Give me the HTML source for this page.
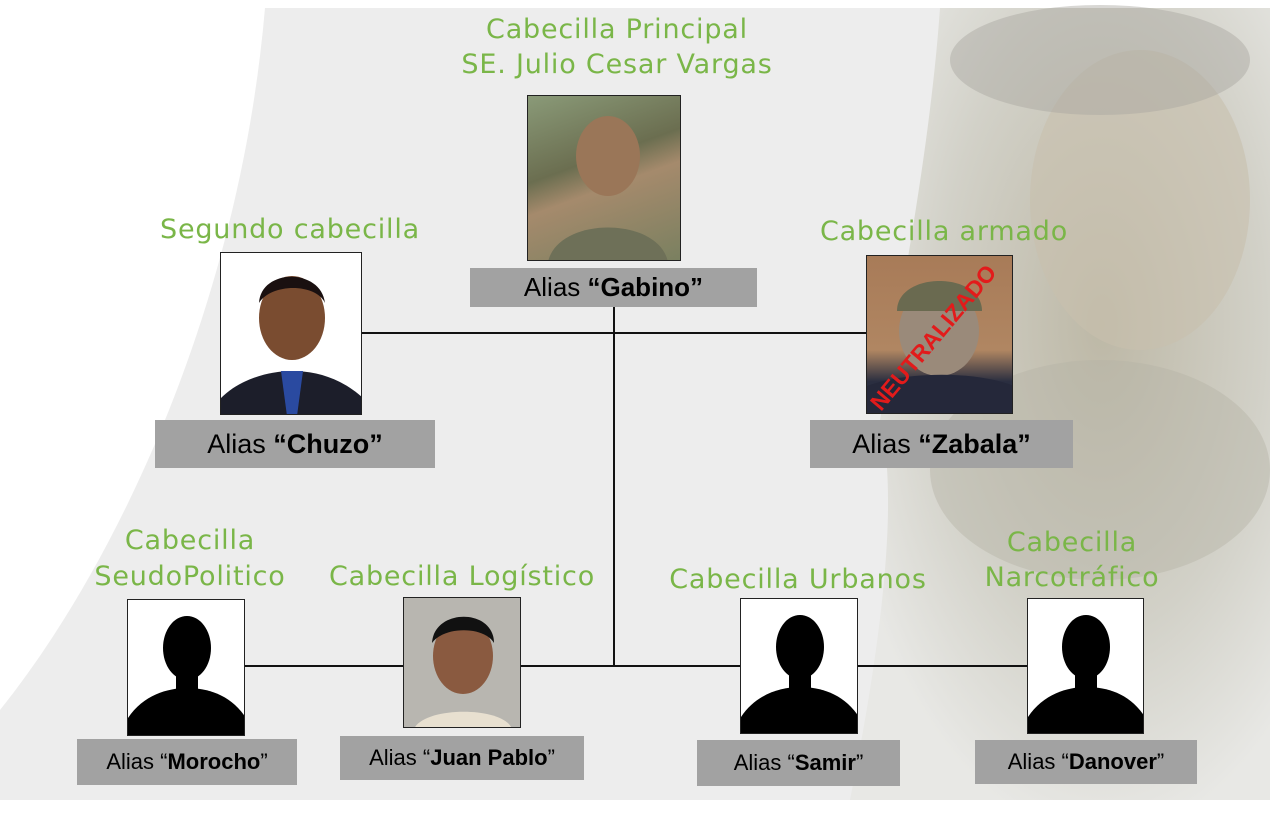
<!DOCTYPE html>
<html><head><meta charset="utf-8"><style>
html,body{margin:0;padding:0}
body{width:1280px;height:822px;position:relative;overflow:hidden;background:#fff;font-family:"Liberation Sans",sans-serif}
.t{position:absolute;color:#7ab648;font-family:"DejaVu Sans","Liberation Sans",sans-serif;font-size:27px;text-align:center;white-space:nowrap;line-height:36px;letter-spacing:0.8px}
.ph{position:absolute;border:1.5px solid #222;box-sizing:border-box;overflow:hidden}
.lb{position:absolute;background:#a2a2a2;color:#000;text-align:center;white-space:nowrap}
.l{position:absolute;background:#111}
</style></head><body>
<svg width="1280" height="822" style="position:absolute;left:0;top:0">
<defs>
<radialGradient id="sol" cx="0.6" cy="0.4" r="0.65"><stop offset="0" stop-color="#bdb8a6"/><stop offset="0.6" stop-color="#d2d1c8"/><stop offset="1" stop-color="#e8e8e5"/></radialGradient>
</defs>
<path d="M265 8 L1270 8 L1270 800 L0 800 L0 710 C120 560 240 300 265 8 Z" fill="#ededed"/>
<path d="M940 8 L1270 8 L1270 800 L850 800 C880 650 900 500 880 420 C900 300 930 150 940 8 Z" fill="url(#sol)"/>
<ellipse cx="1140" cy="200" rx="110" ry="150" fill="#c8bfae" opacity="0.6"/>
<ellipse cx="1100" cy="60" rx="150" ry="55" fill="#a8a79f" opacity="0.45"/>
<ellipse cx="1100" cy="470" rx="170" ry="110" fill="#b5b4a6" opacity="0.45"/>
</svg>

<div class="t" style="left:417px;top:12px;width:400px">Cabecilla Principal</div>
<div class="t" style="left:417px;top:47px;width:400px">SE. Julio Cesar Vargas</div>
<div class="t" style="left:120px;top:212px;width:340px">Segundo cabecilla</div>
<div class="t" style="left:774px;top:214px;width:340px">Cabecilla armado</div>
<div class="t" style="left:60px;top:523px;width:260px">Cabecilla</div>
<div class="t" style="left:60px;top:559px;width:260px">SeudoPolitico</div>
<div class="t" style="left:302px;top:559px;width:320px">Cabecilla Logístico</div>
<div class="t" style="left:638px;top:562px;width:320px">Cabecilla Urbanos</div>
<div class="t" style="left:942px;top:525px;width:260px">Cabecilla</div>
<div class="t" style="left:942px;top:560px;width:260px">Narcotráfico</div>

<div class="l" style="left:613px;top:307px;width:2px;height:360px"></div>
<div class="l" style="left:362px;top:332px;width:504px;height:2px"></div>
<div class="l" style="left:245px;top:665px;width:783px;height:2px"></div>

<div class="ph" style="left:527px;top:95px;width:154px;height:166px;background:linear-gradient(160deg,#8a9a78,#6b6e50 40%,#a58a6c 55%,#7a8060)"><svg width="154" height="166"><ellipse cx="80" cy="60" rx="32" ry="40" fill="#9a7658"/><path d="M20 166 C30 120 130 120 140 166Z" fill="#6e7058"/></svg></div>
<div class="lb" style="left:470px;top:268px;width:287px;height:39px;line-height:39px;font-size:26px">Alias <b>“Gabino”</b></div>

<div class="ph" style="left:220px;top:252px;width:142px;height:163px;background:#fff"><svg width="142" height="163"><ellipse cx="71" cy="65" rx="33" ry="42" fill="#7a4c30"/><path d="M38 50 C40 15 100 15 104 50 C95 30 50 30 38 50Z" fill="#1a1010"/><path d="M0 163 L0 145 C20 125 50 118 71 118 C95 118 120 125 142 145 L142 163Z" fill="#1c1e2a"/><path d="M60 118 L82 118 L76 163 L66 163Z" fill="#2a4aa0"/></svg></div>
<div class="lb" style="left:155px;top:420px;width:280px;height:48px;line-height:48px;font-size:27px">Alias <b>“Chuzo”</b></div>

<div class="ph" style="left:866px;top:255px;width:147px;height:159px;background:linear-gradient(#a87b58,#b08662 60%,#2a2e40 80%)"><svg width="147" height="159"><ellipse cx="72" cy="75" rx="40" ry="45" fill="#9a8a7a"/><path d="M30 55 C30 15 115 15 115 55Z" fill="#6a6a50"/><path d="M0 159 L0 130 C40 115 110 115 147 130 L147 159Z" fill="#25283a"/><text transform="translate(14,156) rotate(-50)" font-family="Liberation Sans" font-weight="bold" font-size="23" fill="#e21b1b">NEUTRALIZADO</text></svg></div>
<div class="lb" style="left:810px;top:420px;width:263px;height:48px;line-height:48px;font-size:27px">Alias <b>“Zabala”</b></div>

<div class="ph" style="left:127px;top:599px;width:118px;height:137px;background:#fff"><svg width="118" height="137"><ellipse cx="59" cy="48" rx="24" ry="32" fill="#000"/><path d="M0 137 L0 118 C15 95 40 88 59 88 C80 88 103 95 118 118 L118 137Z" fill="#000"/><rect x="48" y="70" width="22" height="25" fill="#000"/></svg></div>
<div class="lb" style="left:77px;top:739px;width:220px;height:46px;line-height:46px;font-size:22px">Alias “<b>Morocho</b>”</div>

<div class="ph" style="left:403px;top:597px;width:118px;height:131px;background:#b8b6b0"><svg width="118" height="131"><ellipse cx="59" cy="58" rx="30" ry="38" fill="#8a5a40"/><path d="M28 45 C30 10 90 10 90 45 C80 28 40 28 28 45Z" fill="#111"/><path d="M10 131 C20 108 100 108 108 131Z" fill="#e8e0d0"/></svg></div>
<div class="lb" style="left:340px;top:736px;width:244px;height:44px;line-height:44px;font-size:22px">Alias “<b>Juan Pablo</b>”</div>

<div class="ph" style="left:740px;top:598px;width:118px;height:136px;background:#fff"><svg width="118" height="136"><ellipse cx="59" cy="48" rx="24" ry="32" fill="#000"/><path d="M0 136 L0 118 C15 95 40 88 59 88 C80 88 103 95 118 118 L118 136Z" fill="#000"/><rect x="48" y="70" width="22" height="25" fill="#000"/></svg></div>
<div class="lb" style="left:697px;top:740px;width:203px;height:46px;line-height:46px;font-size:22px">Alias “<b>Samir</b>”</div>

<div class="ph" style="left:1027px;top:598px;width:117px;height:136px;background:#fff"><svg width="117" height="136"><ellipse cx="58" cy="48" rx="24" ry="32" fill="#000"/><path d="M0 136 L0 118 C15 95 40 88 58 88 C80 88 102 95 117 118 L117 136Z" fill="#000"/><rect x="47" y="70" width="22" height="25" fill="#000"/></svg></div>
<div class="lb" style="left:975px;top:740px;width:222px;height:44px;line-height:44px;font-size:22px">Alias “<b>Danover</b>”</div>
</body></html>
